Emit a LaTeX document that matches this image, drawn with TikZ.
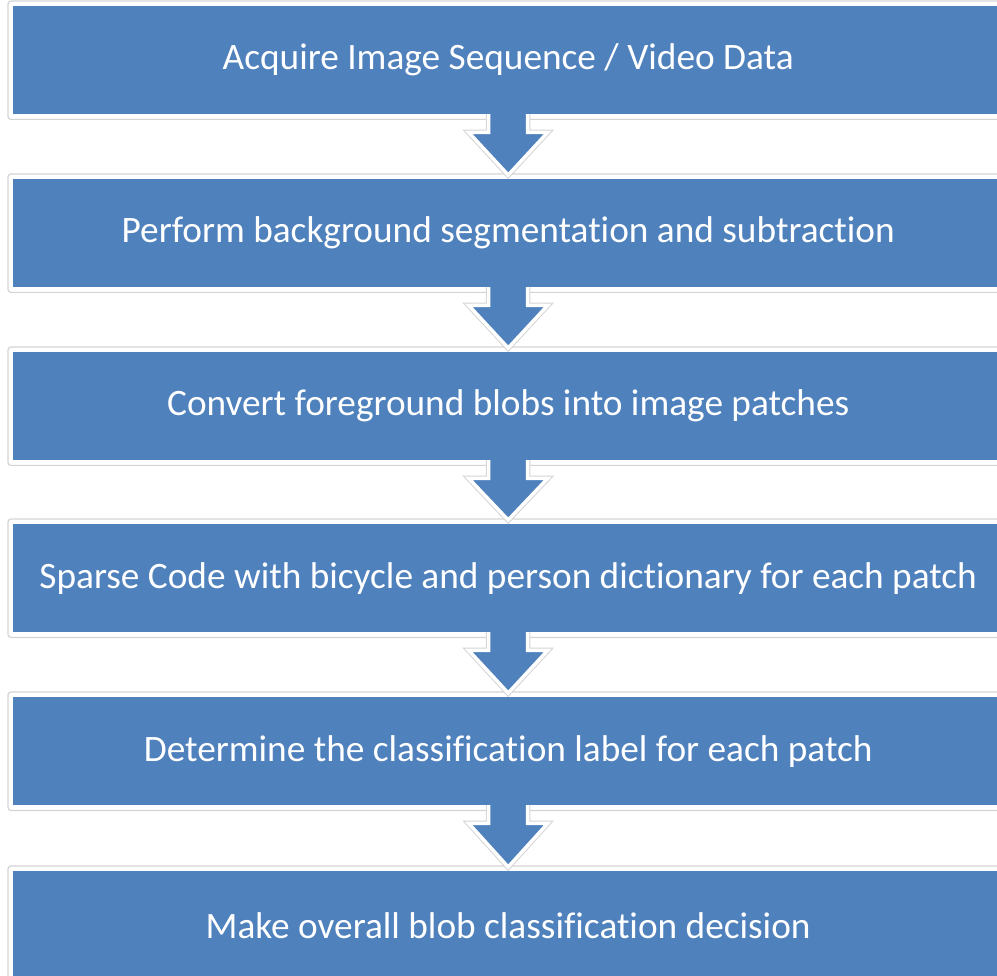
\documentclass[tikz,border=0pt]{standalone}
\usepackage{fontspec}
\setmainfont{Carlito}[Ligatures=NoCommon]
\usetikzlibrary{calc}
\pgfdeclarelayer{back}
\pgfdeclarelayer{bg}
\pgfsetlayers{back,bg,main}
\definecolor{boxblue}{HTML}{4F81BD}
\definecolor{framegray}{HTML}{D4D4D4}
\tikzset{
  stepbox/.style={fill=boxblue, draw=none, anchor=north west, minimum width=990pt, minimum height=108pt, inner sep=0pt, text=white, font=\fontsize{37.3}{44}\selectfont},
  frame/.style={draw=framegray, line width=1.2pt, rounded corners=3pt, fill=white},
  arrowout/.style={draw=framegray, line width=5.5pt, line join=miter},
  arrowin/.style={draw=white, line width=3.5pt, fill=boxblue, line join=miter}
}
\newcommand{\downarrowshape}[3]{%
  \path[#3] ($(#1.south)+(-19.5,-6)$) -- ($(#1.south)+(-19.5,18)$) -- ($(#1.south)+(-39.5,18)$) -- ($(#2.north)+(0,-4)$) -- ($(#1.south)+(39.5,18)$) -- ($(#1.south)+(19.5,18)$) -- ($(#1.south)+(19.5,-6)$) -- cycle;}
\begin{document}
\begin{tikzpicture}[x=1pt,y=-1pt]
\useasboundingbox (0,0) rectangle (997,976);
\node[stepbox] (b1) at (13,6) {Acquire Image Sequence / Video Data};
\node[stepbox] (b2) at (13,179) {Perform background segmentation and subtraction};
\node[stepbox] (b3) at (13,352) {Convert foreground blobs into image patches};
\node[stepbox] (b4) at (13,524) {Sparse Code with bicycle and person dictionary for each patch};
\node[stepbox] (b5) at (13,697) {Determine the classification label for each patch};
\node[stepbox] (b6) at (13,871) {Make overall blob classification decision};
\begin{pgfonlayer}{back}
\foreach \b in {b1,b2,b3,b4,b5,b6}{
  \draw[frame] ($(\b.north west)+(-5,-5)$) rectangle ($(\b.south east)+(5,5)$);
}
\end{pgfonlayer}
\begin{pgfonlayer}{bg}
\foreach \a/\b in {b1/b2,b2/b3,b3/b4,b4/b5,b5/b6}{
  \downarrowshape{\a}{\b}{arrowout}
  \downarrowshape{\a}{\b}{arrowin}
}
\end{pgfonlayer}
\end{tikzpicture}
\end{document}
